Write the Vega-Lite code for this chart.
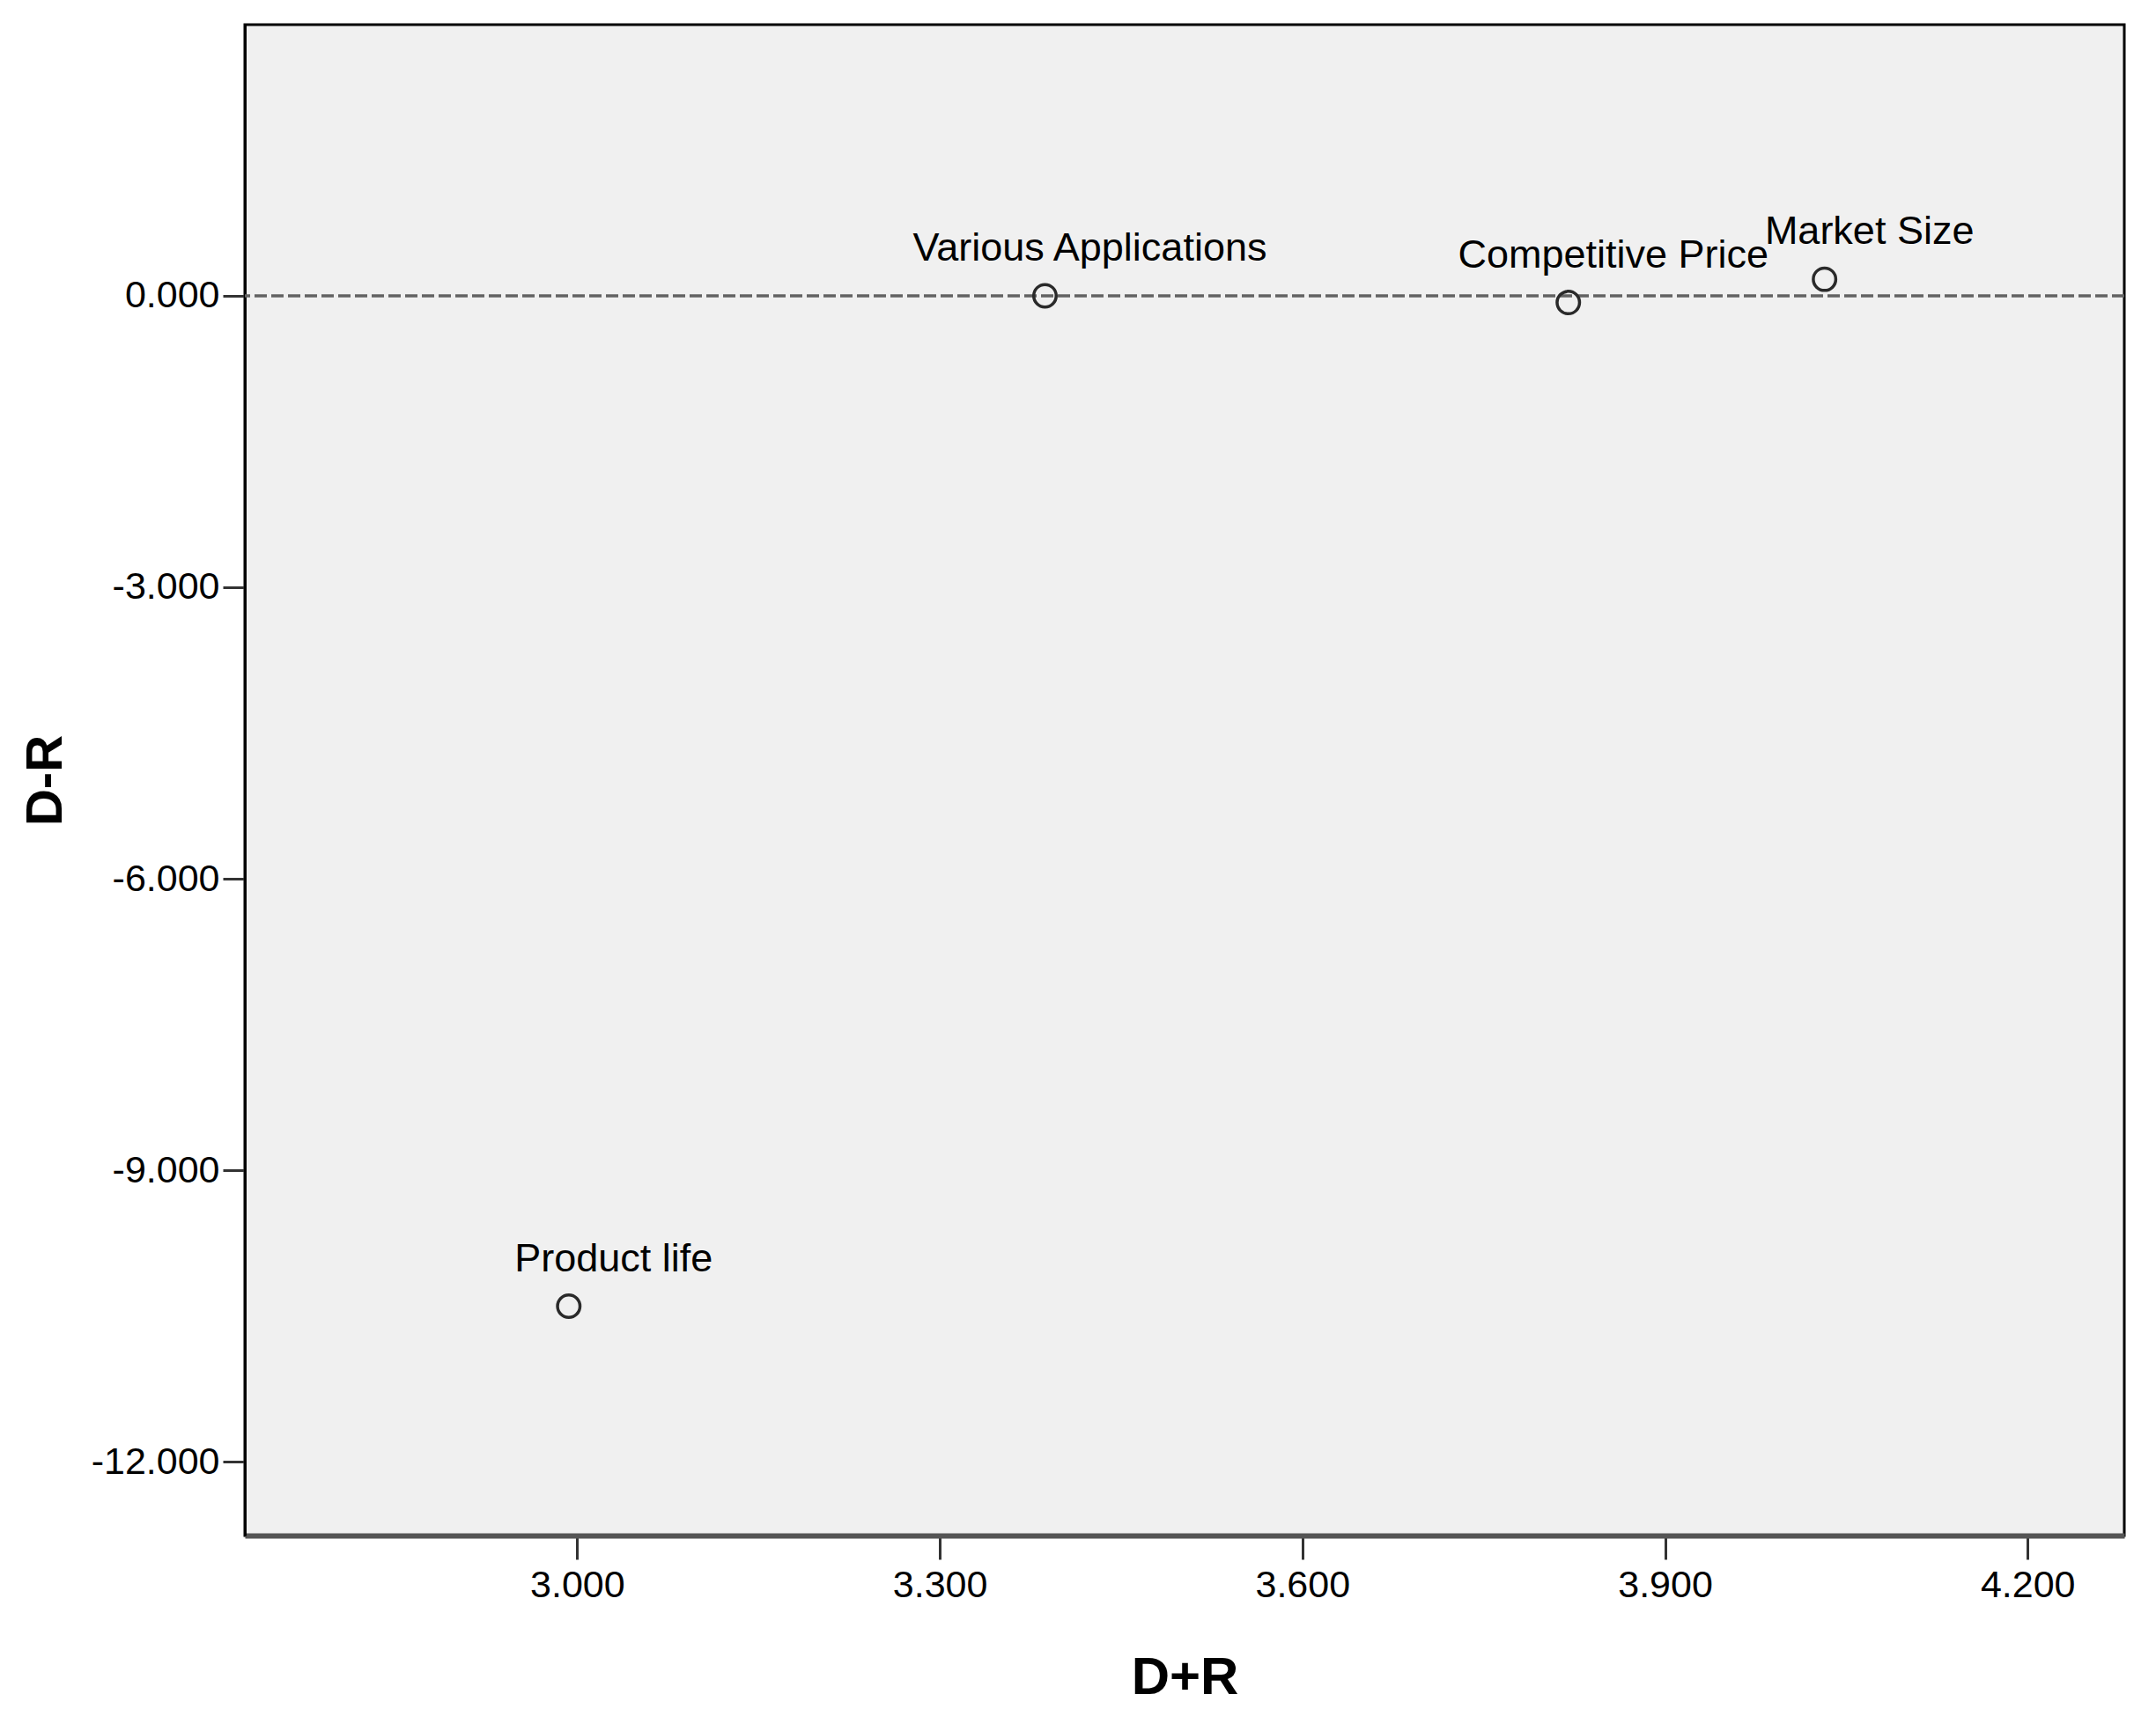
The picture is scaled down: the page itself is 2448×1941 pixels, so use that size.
{
  "$schema": "https://vega.github.io/schema/vega-lite/v6.json",
  "autosize": {"type": "none"},
  "width": 2134,
  "height": 1716,
  "padding": {"left": 278, "top": 28, "right": 36, "bottom": 197},
  "background": "white",
  "config": {
    "view": {"fill": "#f0f0f0", "stroke": "#000000", "strokeWidth": 3},
    "font": "Liberation Sans"
  },
  "data": {
    "values": [
      {"factor": "Various Applications", "DR_sum": 3.387, "DR_diff": 0.0},
      {"factor": "Competitive Price", "DR_sum": 3.82, "DR_diff": -0.07},
      {"factor": "Market Size", "DR_sum": 4.032, "DR_diff": 0.17},
      {"factor": "Product life", "DR_sum": 2.993, "DR_diff": -10.4}
    ]
  },
  "layer": [
    {
      "data": {"values": [{"ref": 0}]},
      "mark": {"type": "rule", "color": "#626262", "strokeWidth": 3.5, "strokeDash": [14, 5]},
      "encoding": {"y": {"field": "ref", "type": "quantitative"}}
    },
    {
      "mark": {"type": "point", "shape": "circle", "filled": false, "stroke": "#2a2a2a", "strokeWidth": 3.5, "size": 650, "opacity": 1},
      "encoding": {
        "x": {
          "field": "DR_sum", "type": "quantitative",
          "scale": {"domain": [2.725, 4.28], "nice": false, "zero": false},
          "axis": {
            "title": "D+R", "values": [3.0, 3.3, 3.6, 3.9, 4.2],
            "labelExpr": "replace(format(datum.value, '.3f'), '−', '-')",
            "grid": false, "domainColor": "#555555", "domainWidth": 6,
            "tickColor": "#333333", "tickWidth": 3, "tickSize": 27,
            "labelFontSize": 43, "labelColor": "#000000", "labelPadding": 8,
            "titleFontSize": 60, "titleFontWeight": "bold", "titleColor": "#000000",
            "titleY": 161, "titleBaseline": "middle"
          }
        },
        "y": {
          "field": "DR_diff", "type": "quantitative",
          "scale": {"domain": [-12.76, 2.79], "nice": false, "zero": false},
          "axis": {
            "title": "D-R", "values": [0, -3, -6, -9, -12],
            "labelExpr": "replace(format(datum.value, '.3f'), '−', '-')",
            "grid": false, "domainColor": "#000000", "domainWidth": 3,
            "tickColor": "#333333", "tickWidth": 3, "tickSize": 25,
            "labelFontSize": 43, "labelColor": "#000000", "labelPadding": 4,
            "titleFontSize": 58, "titleFontWeight": "bold", "titleColor": "#000000",
            "titleX": -226, "titleY": 858, "titleAlign": "center", "titleBaseline": "middle"
          }
        }
      }
    },
    {
      "mark": {"type": "text", "align": "center", "baseline": "middle", "dx": 51, "dy": -54, "fontSize": 45, "color": "#000000"},
      "encoding": {
        "x": {"field": "DR_sum", "type": "quantitative"},
        "y": {"field": "DR_diff", "type": "quantitative"},
        "text": {"field": "factor"}
      }
    }
  ]
}
